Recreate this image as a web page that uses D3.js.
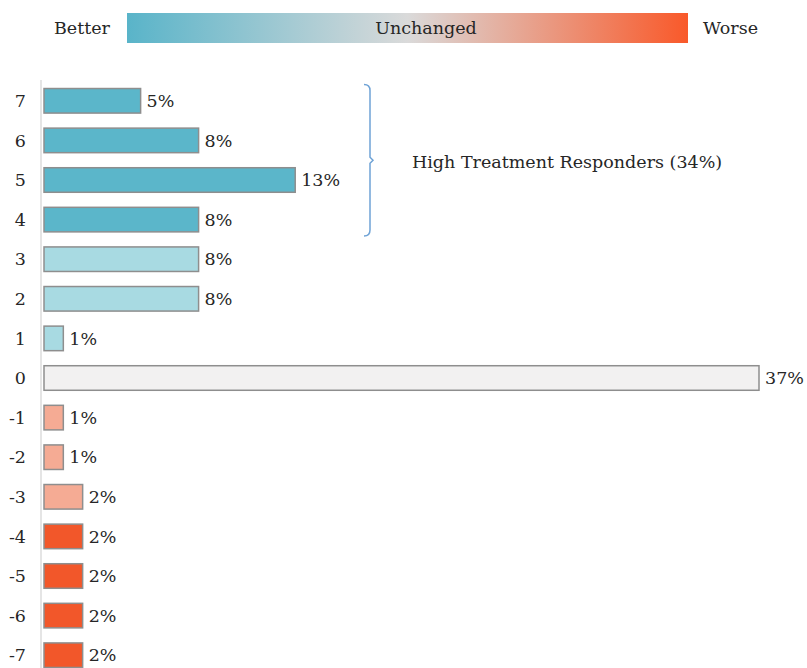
<!DOCTYPE html>
<html>
<head>
<meta charset="utf-8">
<script src="https://cdn.jsdelivr.net/npm/d3@7"></script>
<style>
  body { margin: 0; background: #fff; }
  text { font-family: "DejaVu Serif", "Liberation Serif", serif; fill: #262626; }
</style>
</head>
<body>
<svg id="chart" width="807" height="668"></svg>
<script>
// score change categories, top to bottom
const scores = ["7", "6", "5", "4", "3", "2", "1", "0", "-1", "-2", "-3", "-4", "-5", "-6", "-7"];
// share of patients in each category (%)
const shares = [5, 8, 13, 8, 8, 8, 1, 37, 1, 1, 2, 2, 2, 2, 2];
// colour group of each bar
const groups = ["high", "high", "high", "high", "mid", "mid", "mid", "zero", "low", "low", "low", "bad", "bad", "bad", "bad"];
const legendLabels = ["Better", "Unchanged", "Worse"];
const bracketLabel = "High Treatment Responders (34%)";

const colors = { high: "#5bb6ca", mid: "#a8dae2", zero: "#f2f1f1", low: "#f5ab94", bad: "#f2572a" };
const fs = "17.5px";

const svg = d3.select("#chart");

const x = d3.scaleLinear().domain([0, 37]).range([44, 759]);
const y = d3.scaleBand().domain(scores).range([81, 675]).paddingInner(0.38).paddingOuter(0.19);

// axis line
svg.append("line")
    .attr("x1", 41).attr("x2", 41)
    .attr("y1", 80).attr("y2", 668)
    .style("stroke", "#dcdcdc")
    .style("stroke-width", 1.5);

// category labels
svg.append("g")
    .selectAll("text")
    .data(scores)
    .enter().append("text")
        .attr("x", 26)
        .attr("y", d => y(d) + y.bandwidth() / 2)
        .attr("dy", "0.35em")
        .attr("text-anchor", "end")
        .style("font-size", fs)
        .text(d => d);

// bars
svg.append("g")
    .selectAll("rect")
    .data(scores)
    .enter().append("rect")
        .attr("x", x(0))
        .attr("y", d => y(d))
        .attr("width", (d, i) => x(shares[i]) - x(0))
        .attr("height", y.bandwidth())
        .style("fill", (d, i) => colors[groups[i]])
        .style("stroke", "#8e8e8e")
        .style("stroke-width", 1.5);

// value labels
svg.append("g")
    .selectAll("text")
    .data(scores)
    .enter().append("text")
        .attr("x", (d, i) => x(shares[i]) + 6)
        .attr("y", d => y(d) + y.bandwidth() / 2)
        .attr("dy", "0.35em")
        .style("font-size", fs)
        .text((d, i) => shares[i] + "%");

// legend gradient
const grad = svg.append("defs").append("linearGradient").attr("id", "lg");
grad.append("stop").attr("offset", "0%").attr("stop-color", "#59b4c9");
grad.append("stop").attr("offset", "50%").attr("stop-color", "#dadada");
grad.append("stop").attr("offset", "100%").attr("stop-color", "#f9592a");

svg.append("rect")
    .attr("x", 127).attr("y", 13)
    .attr("width", 561).attr("height", 30)
    .style("fill", "url(#lg)");

svg.append("text").attr("x", 110).attr("y", 28).attr("dy", "0.35em")
    .attr("text-anchor", "end").style("font-size", fs).text(legendLabels[0]);
svg.append("text").attr("x", 426).attr("y", 28).attr("dy", "0.35em")
    .attr("text-anchor", "middle").style("font-size", fs).text(legendLabels[1]);
svg.append("text").attr("x", 703).attr("y", 28).attr("dy", "0.35em")
    .style("font-size", fs).text(legendLabels[2]);

// bracket around the top four bars
const bTop = y("7") - 4, bBot = y("4") + y.bandwidth() + 4, bMid = (bTop + bBot) / 2;
const bx = 370;
svg.append("path")
    .attr("d", `M${bx - 6},${bTop} Q${bx},${bTop} ${bx},${bTop + 6} L${bx},${bMid - 3} L${bx + 3},${bMid} L${bx},${bMid + 3} L${bx},${bBot - 6} Q${bx},${bBot} ${bx - 6},${bBot}`)
    .style("fill", "none")
    .style("stroke", "#6fa3d6")
    .style("stroke-width", 1.5);

svg.append("text")
    .attr("x", 412).attr("y", bMid + 2)
    .attr("dy", "0.35em")
    .style("font-size", fs)
    .text(bracketLabel);
</script>
</body>
</html>
